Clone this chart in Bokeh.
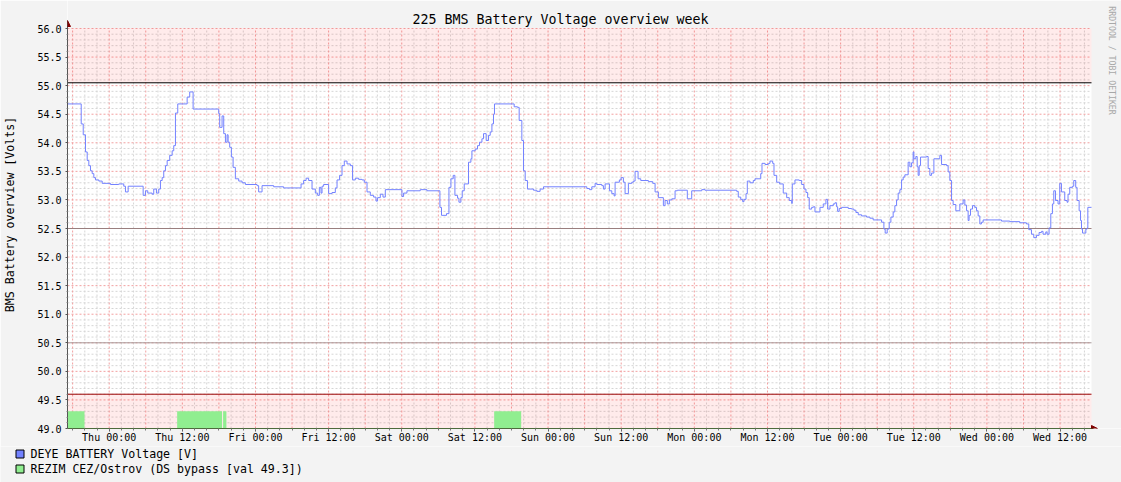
from bokeh.plotting import figure
from bokeh.layouts import column
from bokeh.models import (Range1d, FixedTicker, PrintfTickFormatter, Label, Arrow, NormalHead)
from bokeh.embed import file_html
from bokeh.resources import INLINE
from bokeh.core.properties import value
import math

# ---------------- data (hours relative to Thu 00:00) ----------------
time_h = [-6.84, -4.59, -4.26, -3.89, -3.61, -3.34, -3.07, -2.79, -2.52, -2.25, -1.70, -1.15,
          0.21, 1.57, 2.39, 2.67, 3.11, 5.57, 5.95, 6.33, 7.05, 7.31, 7.75, 8.13, 8.41, 8.69,
          8.95, 9.23, 9.51, 9.93, 10.33, 10.59, 10.87, 11.25, 12.79, 13.21, 13.77, 17.97, 18.13,
          18.52, 18.79, 19.07, 19.34, 19.51, 19.77, 20.05, 20.33, 20.70, 21.25, 21.80, 22.34,
          24.26, 24.52, 25.08, 26.98, 28.62, 31.48, 31.90, 32.30, 32.72, 33.28, 33.82, 34.20,
          34.48, 34.75, 34.92, 35.18, 36.00, 36.56, 37.10, 37.38, 37.80, 38.20, 38.57, 39.02,
          39.56, 39.93, 40.38, 40.92, 41.48, 41.85, 42.30, 42.84, 43.38, 43.77, 44.03, 44.48,
          44.92, 45.30, 48.03, 48.30, 48.85, 51.03, 52.13, 54.26, 54.52, 55.34, 55.74, 56.07,
          56.44, 56.72, 57.15, 57.38, 57.70, 57.92, 58.25, 58.95, 59.34, 59.51, 60.05, 60.43,
          60.75, 61.15, 61.41, 61.85, 62.23, 62.51, 62.79, 63.05, 63.21, 66.44, 66.98, 67.26,
          67.70, 67.97, 68.25, 68.62, 69.61, 70.16, 70.70, 71.25, 78.36, 78.79, 79.18, 79.72,
          80.00, 80.82, 81.08, 81.36, 82.07, 82.46, 82.84, 83.00, 83.70, 83.98, 84.36, 84.64,
          85.18, 85.74, 86.00, 86.28, 86.77, 87.21, 88.46, 89.18, 89.56, 90.10, 90.92, 91.20,
          91.57, 91.90, 92.30, 92.84, 93.21, 94.85, 95.57, 97.21, 97.75, 102.95, 103.21, 103.61,
          103.93, 104.15, 104.48, 104.69, 105.13, 105.67, 105.95, 106.89, 107.10, 107.61,
          108.13, 108.41, 108.85, 109.07, 109.51, 110.00, 110.59, 111.15, 111.57, 111.97,
          112.07, 112.51, 113.21, 113.61, 113.98, 114.31, 114.59, 114.85, 115.25, 115.51,
          115.79, 116.61, 117.15, 117.59, 117.87, 118.25, 118.79, 119.07, 119.34, 119.51,
          119.77, 120.16, 121.25, 121.80, 122.18, 122.51, 122.89, 123.44, 124.26, 124.80,
          125.34, 126.72, 127.10, 127.31, 127.64, 127.97, 128.25, 128.62, 128.90, 129.18,
          129.44, 129.72, 130.00, 130.26, 130.54, 131.08, 131.36, 131.64, 131.90, 132.02,
          132.34, 132.56, 132.72, 132.89, 133.11, 134.10, 134.36, 134.64, 134.92, 135.30,
          136.28, 136.56, 137.38, 137.64, 137.92, 138.20, 138.46, 138.90, 139.56, 140.10,
          140.38, 140.66, 140.92, 141.08, 141.31, 141.64, 142.02, 142.30, 142.56, 142.84,
          143.11, 143.38, 146.39, 147.75, 149.39, 150.49, 150.87, 151.31, 151.69, 152.13,
          152.56, 152.95, 153.21, 153.66, 153.87, 154.20, 154.48, 154.75, 154.97, 155.25,
          155.67, 155.95, 156.23, 156.77, 157.15, 157.31, 157.59, 158.03, 158.25, 158.57,
          158.79, 159.13, 159.36, 159.52, 159.69, 160.23, 160.44, 160.56, 161.16]

battery_v = [54.68, 54.33, 54.14, 53.84, 53.69, 53.60, 53.51, 53.46, 53.39, 53.35, 53.33, 53.29,
             53.27, 53.28, 53.24, 53.14, 53.24, 53.08, 53.16, 53.12, 53.10, 53.19, 53.12, 53.19,
             53.34, 53.39, 53.51, 53.60, 53.69, 53.78, 53.86, 53.95, 54.52, 54.68, 54.80, 54.89,
             54.59, 54.51, 54.27, 54.47, 54.16, 54.01, 54.14, 54.01, 53.92, 53.75, 53.57, 53.37,
             53.33, 53.30, 53.27, 53.25, 53.14, 53.25, 53.23, 53.21, 53.28, 53.34, 53.38, 53.34,
             53.19, 53.12, 53.08, 53.22, 53.12, 53.24, 53.27, 53.11, 53.13, 53.21, 53.35, 53.43,
             53.60, 53.68, 53.63, 53.60, 53.35, 53.38, 53.36, 53.35, 53.31, 53.14, 53.08, 53.05,
             52.98, 53.04, 53.10, 53.05, 53.18, 53.06, 53.12, 53.16, 53.18, 53.16, 52.87, 52.73,
             52.76, 53.22, 53.37, 53.43, 53.08, 53.03, 52.96, 53.04, 53.16, 53.28, 53.66, 53.72,
             53.86, 53.89, 53.95, 54.01, 54.07, 54.16, 54.04, 54.13, 54.19, 54.33, 54.50, 54.68,
             54.63, 54.62, 54.39, 54.04, 53.51, 53.34, 53.19, 53.17, 53.15, 53.19, 53.23, 53.20,
             53.18, 53.23, 53.29, 53.27, 53.25, 53.19, 53.28, 53.16, 53.11, 53.07, 53.31, 53.35,
             53.39, 53.31, 53.11, 53.29, 53.31, 53.33, 53.50, 53.37, 53.34, 53.32, 53.29, 53.14,
             53.04, 52.90, 52.99, 52.93, 53.00, 53.02, 53.16, 53.17, 53.02, 53.16, 53.18, 53.17,
             53.15, 53.05, 53.01, 52.97, 53.01, 53.11, 53.33, 53.30, 53.34, 53.37, 53.46, 53.64,
             53.62, 53.64, 53.68, 53.64, 53.43, 53.31, 53.28, 53.12, 53.04, 52.99, 52.94, 53.28,
             53.35, 53.34, 53.27, 53.19, 53.13, 53.04, 52.84, 52.87, 52.88, 52.79, 52.87, 52.93,
             53.01, 52.84, 52.90, 52.93, 52.95, 52.88, 52.80, 52.85, 52.87, 52.85, 52.84, 52.82,
             52.78, 52.74, 52.72, 52.70, 52.68, 52.65, 52.61, 52.49, 52.42, 52.49, 52.61, 52.70,
             52.79, 52.90, 53.00, 53.12, 53.18, 53.35, 53.40, 53.44, 53.66, 53.58, 53.65, 53.84,
             53.72, 53.76, 53.58, 53.43, 53.60, 53.75, 53.76, 53.55, 53.43, 53.47, 53.72, 53.78,
             53.62, 53.60, 53.49, 53.34, 52.99, 52.92, 52.81, 52.93, 53.00, 52.91, 52.81, 52.64,
             52.73, 52.84, 52.90, 52.87, 52.81, 52.72, 52.58, 52.61, 52.65, 52.63, 52.62, 52.60,
             52.58, 52.48, 52.40, 52.34, 52.38, 52.43, 52.45, 52.40, 52.44, 52.40, 52.51, 52.76,
             52.93, 53.16, 52.99, 52.93, 53.29, 53.14, 52.99, 52.96, 53.10, 53.22, 53.24, 53.34,
             53.22, 52.99, 52.81, 52.64, 52.49, 52.42, 52.49, 52.51, 52.87, 52.87]

# REZIM CEZ/Ostrov (DS bypass) periods, drawn at value 49.3
bypass_start = [-6.84, 11.15, 18.69, 63.16]
bypass_end = [-4.05, 18.52, 19.23, 67.59]
bypass_value = 49.3

# thresholds
upper_warn = 55.05
lower_warn = 49.6
rule_mid1 = 52.5
rule_mid2 = 50.5

x_ticks = [0, 12, 24, 36, 48, 60, 72, 84, 96, 108, 120, 132, 144, 156]
x_tick_labels = ["Thu 00:00", "Thu 12:00", "Fri 00:00", "Fri 12:00", "Sat 00:00", "Sat 12:00",
                 "Sun 00:00", "Sun 12:00", "Mon 00:00", "Mon 12:00", "Tue 00:00", "Tue 12:00",
                 "Wed 00:00", "Wed 12:00"]
y_ticks = [49.0, 49.5, 50.0, 50.5, 51.0, 51.5, 52.0, 52.5, 53.0, 53.5, 54.0, 54.5, 55.0, 55.5, 56.0]

legend_labels = ["DEYE BATTERY Voltage [V]", "REZIM CEZ/Ostrov (DS bypass [val 49.3])"]

# ---------------- layout ----------------
T0, T1 = -6.84, 161.16      # graph time span
Y0, Y1 = 49.0, 56.0
PX_H = 1024 / (T1 - T0)     # pixels per hour
PX_V = 400 / (Y1 - Y0)      # pixels per volt
XEND = T0 + 1054 / PX_H     # frame runs to the right edge of the canvas
YEND = Y1 + 28 / PX_V       # frame runs to the top edge of the canvas
MONO = "DejaVu Sans Mono"
BLUE = "#7382ff"
GREEN = "#90ee90"
BG = "#f3f3f3"

p = figure(width=1121, height=446, output_backend="svg", toolbar_location=None,
           x_range=Range1d(T0, XEND), y_range=Range1d(Y0, YEND),
           min_border_left=67, min_border_right=0, min_border_top=0, min_border_bottom=18)
p.frame_align = False
p.border_fill_color = BG
p.background_fill_color = "white"
p.outline_line_color = None
p.xgrid.visible = False
p.ygrid.visible = False

# strips outside the graph area painted like the canvas
p.quad(left=T0, right=XEND, bottom=Y1, top=YEND, fill_color=BG, line_color=None)
p.quad(left=T1, right=XEND, bottom=Y0, top=YEND, fill_color=BG, line_color=None)

# grid
h_minor = [round(Y0 + 0.1 * i, 1) for i in range(1, 70) if i % 5 != 0]
h_major = [round(Y0 + 0.5 * i, 1) for i in range(1, 15)]
v_all = [h for h in range(-6, 162, 2)]
v_major = [h for h in v_all if h % 6 == 0]
v_minor = [h for h in v_all if h % 6 != 0]

p.segment(x0=T0, x1=T1, y0=h_minor, y1=h_minor, line_color="#d6d6d6", line_width=1, line_dash="2 2")
p.segment(x0=v_minor, x1=v_minor, y0=Y0, y1=Y1, line_color="#d6d6d6", line_width=1, line_dash="2 2")
p.segment(x0=T0, x1=T1, y0=h_major, y1=h_major, line_color="#f2a0a0", line_width=1, line_dash="2 2")
p.segment(x0=v_major, x1=v_major, y0=Y0, y1=Y1, line_color="#f2a0a0", line_width=1, line_dash="2 2")

# warning zones (translucent)
p.quad(left=T0, right=T1, bottom=upper_warn, top=Y1, fill_color="#ff0000", fill_alpha=0.08, line_color=None)
p.quad(left=T0, right=T1, bottom=Y0, top=lower_warn, fill_color="#ff0000", fill_alpha=0.08, line_color=None)

# bypass periods
p.quad(left=bypass_start, right=bypass_end, bottom=Y0, top=bypass_value, fill_color=GREEN, line_color=None)

# rules
p.segment(x0=T0, x1=T1, y0=upper_warn, y1=upper_warn, line_color="#000000", line_width=1)
p.segment(x0=T0, x1=T1, y0=rule_mid1, y1=rule_mid1, line_color="#9a7f7f", line_width=1)
p.segment(x0=T0, x1=T1, y0=rule_mid2, y1=rule_mid2, line_color="#a89a9a", line_width=1)
p.segment(x0=T0, x1=T1, y0=lower_warn, y1=lower_warn, line_color="#9b0000", line_width=1)

# battery voltage
p.step(time_h, battery_v, mode="after", line_color=BLUE, line_width=1)

# axes
xa = p.xaxis[0]
xa.ticker = FixedTicker(ticks=x_ticks, minor_ticks=v_all)
xa.major_label_overrides = {t: l for t, l in zip(x_ticks, x_tick_labels)}
xa.bounds = (T0, T1 + 2 / PX_H)
xa.axis_line_color = "#4d6b3c"
xa.major_tick_out = 3
xa.major_tick_in = 0
xa.minor_tick_out = 2
xa.minor_tick_in = 0
xa.major_tick_line_color = "#555555"
xa.minor_tick_line_color = "#777777"
xa.major_label_standoff = 0
xa.major_label_text_font = MONO
xa.major_label_text_font_size = "10px"
xa.major_label_text_color = "black"

ya = p.yaxis[0]
ya.ticker = FixedTicker(ticks=y_ticks, minor_ticks=h_minor)
ya.formatter = PrintfTickFormatter(format="%.1f")
ya.bounds = (Y0, Y1 + 8 / PX_V)
ya.axis_line_color = "#555555"
ya.major_tick_out = 2
ya.major_tick_in = 0
ya.minor_tick_out = 1
ya.minor_tick_in = 0
ya.major_tick_line_color = "#555555"
ya.minor_tick_line_color = "#888888"
ya.major_label_standoff = 4
ya.major_label_text_font = MONO
ya.major_label_text_font_size = "10px"
ya.major_label_text_color = "black"
ya.axis_label = "BMS Battery overview [Volts]"
ya.axis_label_standoff = 17
ya.axis_label_text_font = MONO
ya.axis_label_text_font_size = "11.6px"
ya.axis_label_text_font_style = "normal"
ya.axis_label_text_color = "black"

# axis arrows
head = dict(size=6, fill_color="#800000", line_color="#800000")
p.add_layout(Arrow(end=NormalHead(**head), x_start=T0, y_start=Y1 + 2 / PX_V,
                   x_end=T0, y_end=Y1 + 8 / PX_V, line_alpha=0))
p.add_layout(Arrow(end=NormalHead(**head), x_start=T1, y_start=Y0,
                   x_end=T1 + 6 / PX_H, y_end=Y0, line_alpha=0))

# title and watermark (inside the top / right strips)
p.add_layout(Label(x=T0 + 493 / PX_H, y=Y1 + 9 / PX_V, text="225 BMS Battery Voltage overview week",
                   text_font=MONO, text_font_size="13.3px", text_align="center",
                   text_baseline="middle", text_color="black"))
p.add_layout(Label(x=T0 + 1044 / PX_H, y=Y1 - 32 / PX_V, text="RRDTOOL / TOBI OETIKER",
                   angle=-math.pi / 2, text_font=MONO, text_font_size="8.2px", text_align="center",
                   text_baseline="middle", text_color="#a8a8a8"))

# ---------------- legend strip ----------------
q = figure(width=1121, height=36, output_backend="svg", toolbar_location=None,
           x_axis_type=None, y_axis_type=None,
           x_range=Range1d(0, 1121), y_range=Range1d(36, 0),
           min_border_left=0, min_border_right=0, min_border_top=0, min_border_bottom=0)
q.frame_align = False
q.border_fill_color = BG
q.background_fill_color = BG
q.outline_line_color = None
q.grid.visible = False
q.rect(x=[19.5, 19.5], y=[7.5, 22.5], width=8, height=8,
       fill_color=[BLUE, GREEN], line_color="black", line_width=1)
q.text(x=[30, 30], y=[7.5, 22.5], text=legend_labels, text_font=value(MONO),
       text_font_size="11.6px", text_baseline="middle", text_align="left", text_color="black")

layout = column(p, q, spacing=0)
open("out.html", "w").write(file_html(layout, INLINE))
